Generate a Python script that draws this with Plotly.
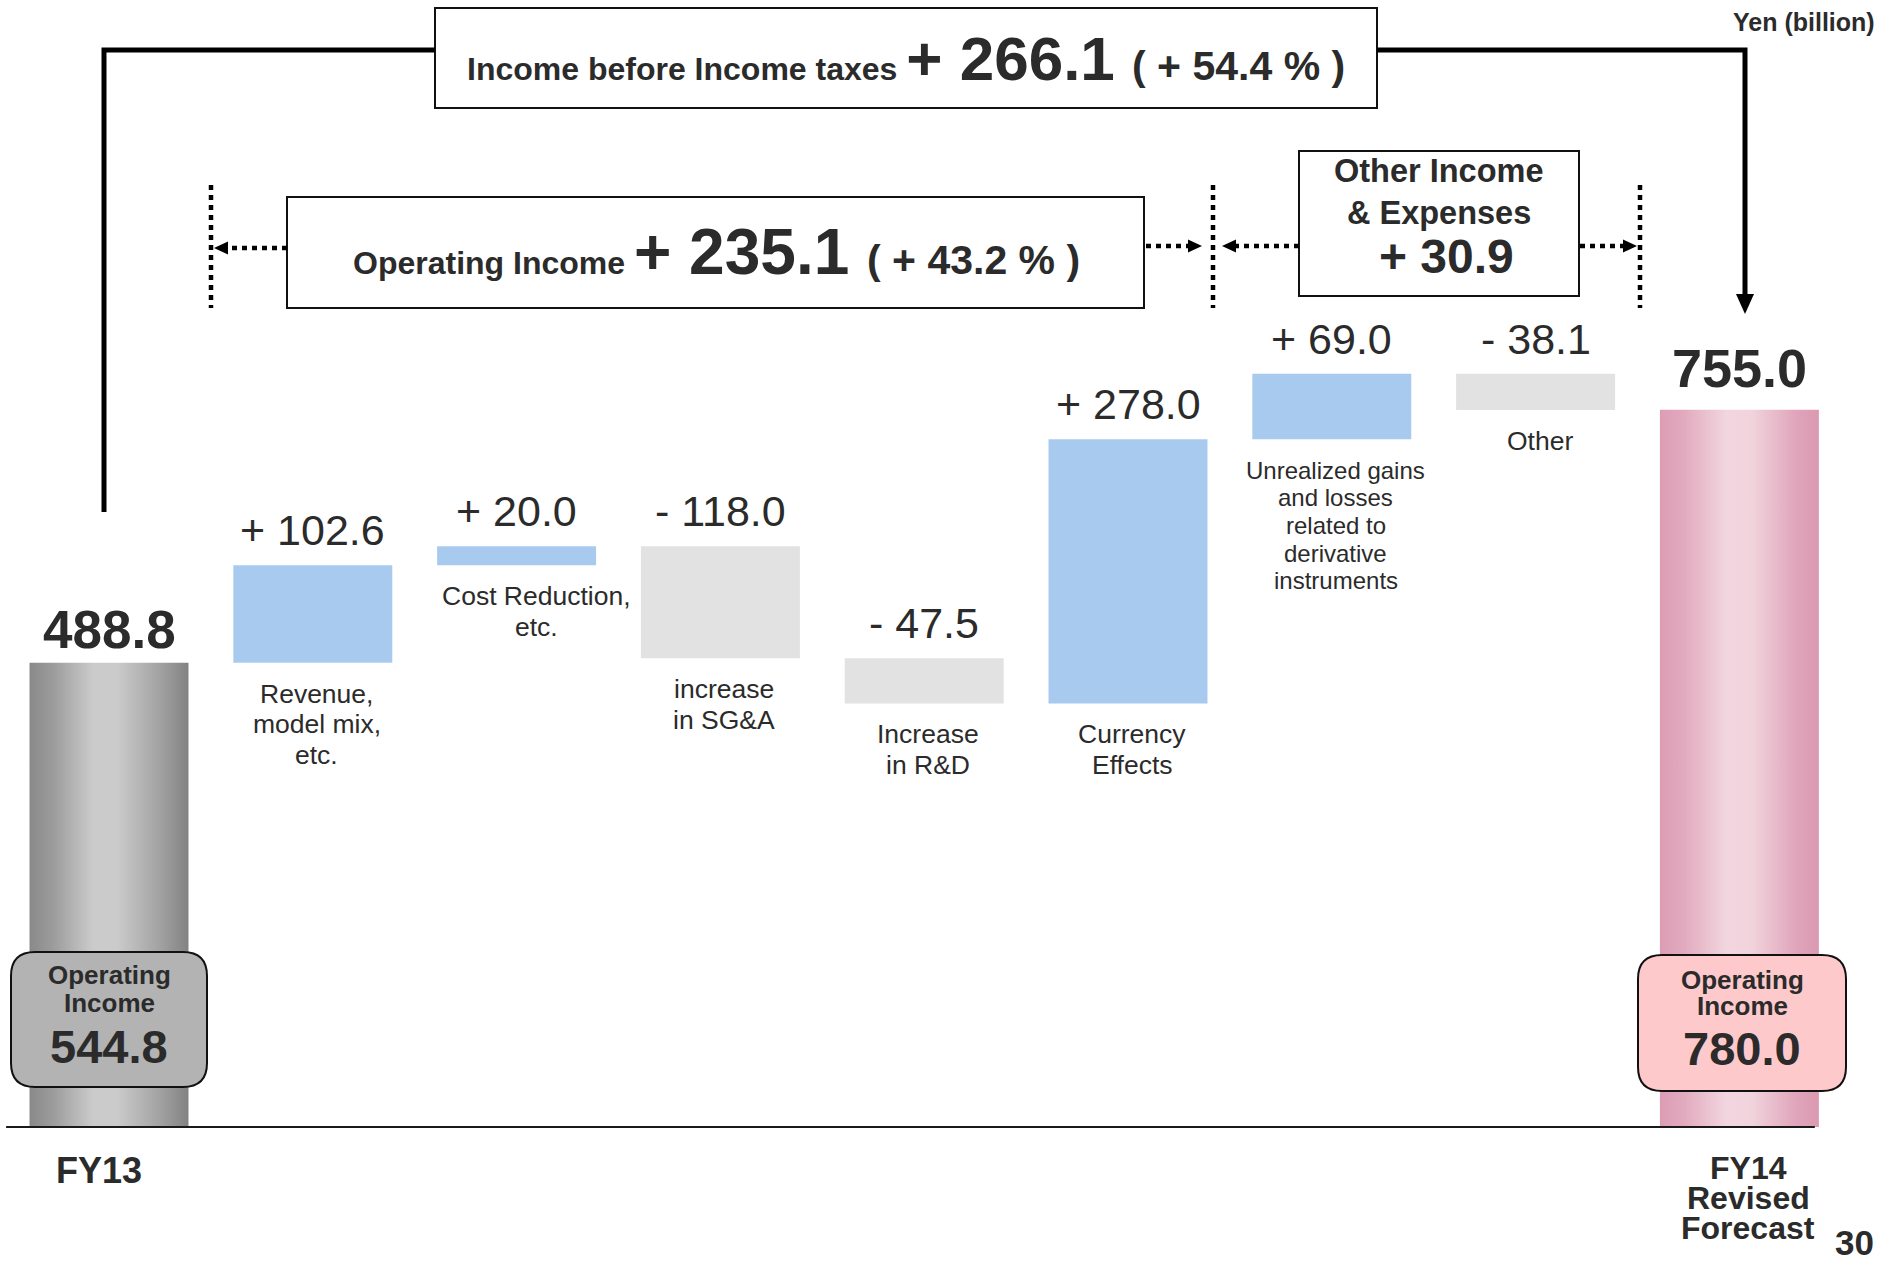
import plotly.graph_objects as go

# Values in yen (billion)
start_label = "FY13"
end_label = "FY14<br>Revised<br>Forecast"
start_value = 488.8
end_value = 755.0
start_operating = 544.8
end_operating = 780.0

step_labels = [
    ["Revenue,", "model mix,", "etc."],
    ["Cost Reduction,", "etc."],
    ["increase", "in SG&A"],
    ["Increase", "in R&D"],
    ["Currency", "Effects"],
    ["Unrealized gains", "and losses", "related to", "derivative", "instruments"],
    ["Other"],
]
step_values = [102.6, 20.0, -118.0, -47.5, 278.0, 69.0, -38.1]

pretax_change = 266.1
pretax_pct = 54.4
operating_change = 235.1
operating_pct = 43.2
other_change = 30.9

W, H = 1896, 1261
FONT = "Liberation Sans, Arial, sans-serif"
INK = "#2b2b2b"
BLUE = "#a8caef"
GREY = "#e2e2e2"


def px(x):
    return x / W


def py(y):
    return 1 - y / H


def fmt(v):
    return f"{'+' if v > 0 else '-'} {abs(v):.1f}"


fig = go.Figure()

# Start / end bars with the cylinder-like gradient
n = len(step_values)
bar_w = 0.78
for xpos, val, scale in [
    (0, start_value, [[0, "#898989"], [0.15, "#9c9c9c"], [0.4, "#cbcbcb"], [0.55, "#cbcbcb"],
                      [0.82, "#a2a2a2"], [1, "#828282"]]),
    (n + 1, end_value, [[0, "#dc9db4"], [0.15, "#e1aabe"], [0.42, "#f2d6df"], [0.58, "#f1d3dc"],
                        [0.85, "#e0a6bb"], [1, "#da99b1"]]),
]:
    x0, x1 = xpos - bar_w / 2, xpos + bar_w / 2
    fig.add_trace(go.Scatter(
        x=[x0, x1, x1, x0, x0],
        y=[0, 0, val, val, 0],
        mode="lines",
        line=dict(width=0),
        fill="toself",
        fillgradient=dict(type="horizontal", colorscale=scale),
        hoverinfo="skip",
    ))

# Waterfall steps
bases = []
running = start_value
for v in step_values:
    bases.append(running)
    running += v
fig.add_trace(go.Bar(
    x=list(range(1, n + 1)),
    y=step_values,
    base=bases,
    width=bar_w,
    marker=dict(color=[BLUE if v > 0 else GREY for v in step_values], line=dict(width=0)),
    hoverinfo="skip",
))

annotations = []


def text(x, y, s, size, bold=False, xref="paper", yref="paper", xanchor="center",
         yanchor="middle", yshift=0, xshift=0):
    annotations.append(dict(
        x=x, y=y, xref=xref, yref=yref, text=f"<b>{s}</b>" if bold else s,
        showarrow=False, xanchor=xanchor, yanchor=yanchor, yshift=yshift, xshift=xshift,
        font=dict(family=FONT, size=size, color=INK),
    ))


# Step value labels and category labels (the cost label sits a bit right of its bar)
label_nudge = {1: 16}
for i, (v, b, lines) in enumerate(zip(step_values, bases, step_labels)):
    top = max(b, b + v)
    bottom = min(b, b + v)
    text(i + 1, top, fmt(v), 43, xref="x", yref="y", yshift=35)
    size = 24 if len(lines) > 3 else 26.5
    for k, line in enumerate(lines):
        text(i + 1, bottom, line, size, xref="x", yref="y",
             yshift=-(31 + k * size * 1.15), xshift=4 + label_nudge.get(i, 0))

# Start / end totals
text(0, start_value, f"{start_value:.1f}", 53, bold=True, xref="x", yref="y", yshift=33)
text(n + 1, end_value, f"{end_value:.1f}", 54, bold=True, xref="x", yref="y", yshift=42)

# Category labels under the axis
text(px(99), py(1170), start_label, 36, bold=True)
for k, line in enumerate(end_label.split("<br>")):
    text(px(1748), py(1168 + k * 30), line, 32, bold=True)
text(px(1854), py(1242), "30", 35, bold=True)
text(px(1877), py(22), "Yen (billion)", 25, bold=True, xanchor="right")

shapes = []

# Rounded operating income badges
def rounded(x0, y0, x1, y1, r, fill):
    rx, ry = r / W, r / H
    X0, X1, Y0, Y1 = px(x0), px(x1), py(y1), py(y0)
    path = (f"M {X0 + rx},{Y0} L {X1 - rx},{Y0} Q {X1},{Y0} {X1},{Y0 + ry} "
            f"L {X1},{Y1 - ry} Q {X1},{Y1} {X1 - rx},{Y1} L {X0 + rx},{Y1} "
            f"Q {X0},{Y1} {X0},{Y1 - ry} L {X0},{Y0 + ry} Q {X0},{Y0} {X0 + rx},{Y0} Z")
    shapes.append(dict(type="path", xref="paper", yref="paper", path=path,
                       fillcolor=fill, line=dict(color="#111111", width=2)))


rounded(11, 952, 207, 1087, 24, "#b3b3b3")
rounded(1638, 955, 1846, 1091, 24, "#fdc9cb")
for cx, ys, val in [(109, (975, 1003, 1046), start_operating),
                    (1742, (980, 1006, 1048), end_operating)]:
    text(px(cx), py(ys[0]), "Operating", 26, bold=True)
    text(px(cx), py(ys[1]), "Income", 26, bold=True)
    text(px(cx), py(ys[2]), f"{val:.1f}", 47, bold=True)

# Baseline along the data axis
shapes.append(dict(type="line", xref="x", yref="y", x0=-0.505, x1=n + 1.37, y0=0, y1=0,
                   line=dict(color="#1a1a1a", width=2)))

# Callout boxes
for x0, y0, x1, y1 in [(435, 8, 1377, 108), (287, 197, 1144, 308), (1299, 151, 1579, 296)]:
    shapes.append(dict(type="rect", xref="paper", yref="paper",
                       x0=px(x0), x1=px(x1), y0=py(y1), y1=py(y0),
                       fillcolor="white", line=dict(color="#111111", width=2)))

text(px(906), py(58),
     f"<b>Income before Income taxes <span style='font-size:62px'>{fmt(pretax_change)} </span>"
     f"<span style='font-size:41px'>( + {pretax_pct:.1f} % )</span></b>", 32)
text(px(716), py(252),
     f"<b>Operating Income <span style='font-size:64px'>{fmt(operating_change)} </span>"
     f"<span style='font-size:41px'>( + {operating_pct:.1f} % )</span></b>", 32)
text(px(1439), py(171), "Other Income", 32.5, bold=True)
text(px(1439), py(213), "&amp; Expenses", 32.5, bold=True)
text(px(1446), py(257), fmt(other_change), 48, bold=True)

# Thick connector from FY13 to FY14
def poly(points, width):
    path = "M " + " L ".join(f"{px(x)},{py(y)}" for x, y in points)
    shapes.append(dict(type="path", xref="paper", yref="paper", path=path,
                       line=dict(color="black", width=width)))


def triangle(points):
    path = "M " + " L ".join(f"{px(x)},{py(y)}" for x, y in points) + " Z"
    shapes.append(dict(type="path", xref="paper", yref="paper", path=path,
                       fillcolor="black", line=dict(width=0)))


poly([(104, 512), (104, 50), (435, 50)], 5)
poly([(1377, 50), (1745, 50), (1745, 296)], 5)
triangle([(1736, 294), (1754, 294), (1745, 314)])

# Dotted brackets
for xv in (211, 1213, 1640):
    shapes.append(dict(type="line", xref="paper", yref="paper",
                       x0=px(xv), x1=px(xv), y0=py(185), y1=py(308),
                       line=dict(color="black", width=4.5, dash="5px,5px")))


def dotted_arrow(x_from, x_tip, y):
    d = 1 if x_tip > x_from else -1
    shapes.append(dict(type="line", xref="paper", yref="paper",
                       x0=px(x_from), x1=px(x_tip - d * 10), y0=py(y), y1=py(y),
                       line=dict(color="black", width=4.5, dash="5px,5px")))
    triangle([(x_tip - d * 14, y - 6.5), (x_tip - d * 14, y + 6.5), (x_tip, y)])


dotted_arrow(287, 214, 248)
dotted_arrow(1146, 1202, 246)
dotted_arrow(1299, 1222, 246)
dotted_arrow(1580, 1637, 246)

fig.update_layout(
    width=W,
    height=H,
    margin=dict(l=0, r=0, t=0, b=0),
    paper_bgcolor="white",
    plot_bgcolor="white",
    showlegend=False,
    xaxis=dict(range=[-109 / 203.8, (W - 109) / 203.8], visible=False, fixedrange=True),
    yaxis=dict(range=[-134 / 0.95, 1127 / 0.95], visible=False, fixedrange=True),
    shapes=shapes,
    annotations=annotations,
)

# drop the page's default body margin so the figure sits at the window corner
fig.write_html("out.html", config={"displayModeBar": False},
               post_script="document.body.style.margin='0px';")
